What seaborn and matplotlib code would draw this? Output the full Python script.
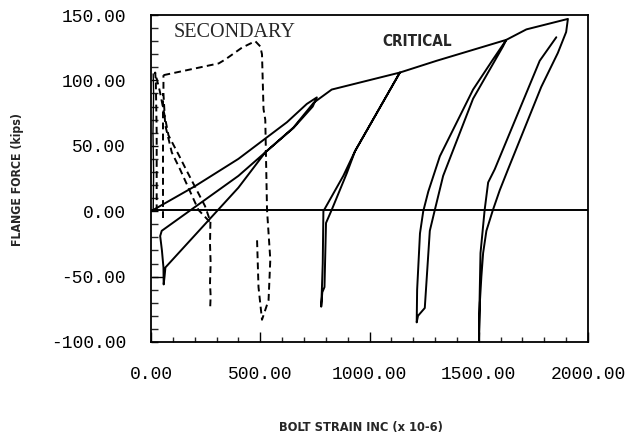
import matplotlib
matplotlib.use("Agg")
import matplotlib.pyplot as plt
import seaborn as sns
import pandas as pd
from matplotlib.ticker import MultipleLocator, FormatStrFormatter

# ---------------- data ----------------
# CRITICAL bolt: one continuous hysteresis path (solid)
crit_x = [0, 200, 400, 622, 713, 759, 740, 652, 523, 400, 49, 42, 50, 57, 58, 62, 66, 400, 523,
          652, 745, 827, 1139, 934, 880, 789, 786, 782, 779, 784, 794, 801, 827, 896, 934, 1139,
          1307, 1626, 1565, 1474, 1322, 1269, 1246, 1231, 1218, 1216, 1222, 1253, 1276, 1299,
          1337, 1474, 1611, 1626, 1718, 1908, 1900, 1862, 1786, 1634, 1596, 1565, 1535, 1520,
          1512, 1505, 1501, 1503, 1508, 1527, 1543, 1573, 1779, 1855]
crit_y = [0, 19, 40, 68, 82, 87, 80, 63.6, 45, 27, -15, -19, -30, -43, -56, -50, -43, 18, 45,
          64, 83, 93, 106, 46, 27, 0, -40, -60, -73, -62, -58, -9, 1, 29, 46, 106,
          115, 131, 116, 93, 42, 15, 0, -17, -60, -85, -80, -74, -15, 1,
          27, 86, 126, 131, 139, 147, 137, 121, 95, 32, 16, 1, -15, -32,
          -50, -70, -99, -75, -32, 1, 22, 32, 115, 133]

# small solid strokes near the left edge
edge_x = [10, 12, 9, 12, 10]
edge_y = [0, 30, 60, 90, 105]
bracket_x = [3, 57]
bracket_y = [-50, -50]

# SECONDARY bolt: dashed segments
sec1_x = [26, 26, 22, 19, 40, 80, 130, 160, 247, 272, 270, 273, 270, 273, 271]
sec1_y = [0, 60, 100, 106, 92, 58, 42, 32, 4, -8, -25, -40, -55, -65, -73]
sec2_x = [268, 217, 133, 95, 65, 57, 57]
sec2_y = [-8, 1, 32, 45, 66, 90, 104]
sec3_x = [57, 57, 57]
sec3_y = [-5, 40, 90]
sec4_x = [57, 310, 340, 416, 477, 500, 508, 515, 523, 531, 546, 538, 508, 492, 485]
sec4_y = [104, 113, 116, 125, 130, 126, 120, 78, 70, 1, -37, -68, -83, -58, -20]

x_ticks = [0, 500, 1000, 1500, 2000]
y_ticks = [-100, -50, 0, 50, 100, 150]

# ---------------- figure ----------------
sns.set_theme(style="white")
plt.rcParams["font.family"] = ["Liberation Mono", "DejaVu Sans"]

fig = plt.figure(figsize=(6.27, 4.38), dpi=100)
ax = fig.add_axes([151 / 627, 1 - 342 / 438, 437 / 627, 327 / 438])

lw = 1.4
sns.lineplot(x=crit_x, y=crit_y, sort=False, estimator=None, color="black", lw=lw, ax=ax)
sns.lineplot(x=edge_x, y=edge_y, sort=False, estimator=None, color="black", lw=1.0, ax=ax)
sns.lineplot(x=bracket_x, y=bracket_y, sort=False, estimator=None, color="black", lw=1.0, ax=ax)

dash = (0, (3.5, 2.2))
for sx, sy in [(sec1_x, sec1_y), (sec2_x, sec2_y), (sec3_x, sec3_y), (sec4_x, sec4_y)]:
    sns.lineplot(x=sx, y=sy, sort=False, estimator=None, color="black", lw=lw,
                 linestyle=dash, ax=ax)

ax.axhline(1, color="black", lw=lw)

ax.set_xlim(0, 2000)
ax.set_ylim(-100, 150)
ax.set_xticks(x_ticks)
ax.set_yticks(y_ticks)
ax.xaxis.set_minor_locator(MultipleLocator(100))
ax.yaxis.set_minor_locator(MultipleLocator(10))
ax.xaxis.set_major_formatter(FormatStrFormatter("%.2f"))
ax.yaxis.set_major_formatter(FormatStrFormatter("%.2f"))
ax.tick_params(axis="x", which="major", direction="in", length=7.5, width=1.0,
               bottom=True, top=False, pad=17, labelsize=13, colors="black")
ax.tick_params(axis="x", which="minor", direction="in", length=3.5, width=1.0,
               bottom=True, top=False)
ax.tick_params(axis="y", which="major", direction="in", length=5, width=1.0,
               left=True, right=False, pad=18, labelsize=13, colors="black")
ax.tick_params(axis="y", which="minor", direction="in", length=5, width=1.0,
               left=True, right=False)
for s in ax.spines.values():
    s.set_color("black")
    s.set_linewidth(1.3)
    s.set_visible(True)
ax.set_xlabel("")
ax.set_ylabel("")

lab_font = ["Liberation Sans Narrow", "DejaVu Sans"]
fig.text(18 / 627, 1 - 180 / 438, "FLANGE FORCE (kips)", rotation=90, ha="center", va="center",
         family=lab_font, fontweight="bold", fontsize=8.8, fontstretch="condensed")
fig.text(361 / 627, 1 - 428 / 438, "BOLT STRAIN INC (x 10-6)", ha="center", va="center",
         family=lab_font, fontweight="bold", fontsize=9.2, fontstretch="condensed")

ax.text(103, 133.4, "SECONDARY", ha="left", va="baseline",
        family=["Liberation Serif", "DejaVu Serif"], fontsize=14.5)
ax.text(1061, 126.5, "CRITICAL", ha="left", va="baseline",
        family=lab_font, fontweight="bold", fontsize=11, fontstretch="condensed")

fig.savefig("out.png", dpi=100)
